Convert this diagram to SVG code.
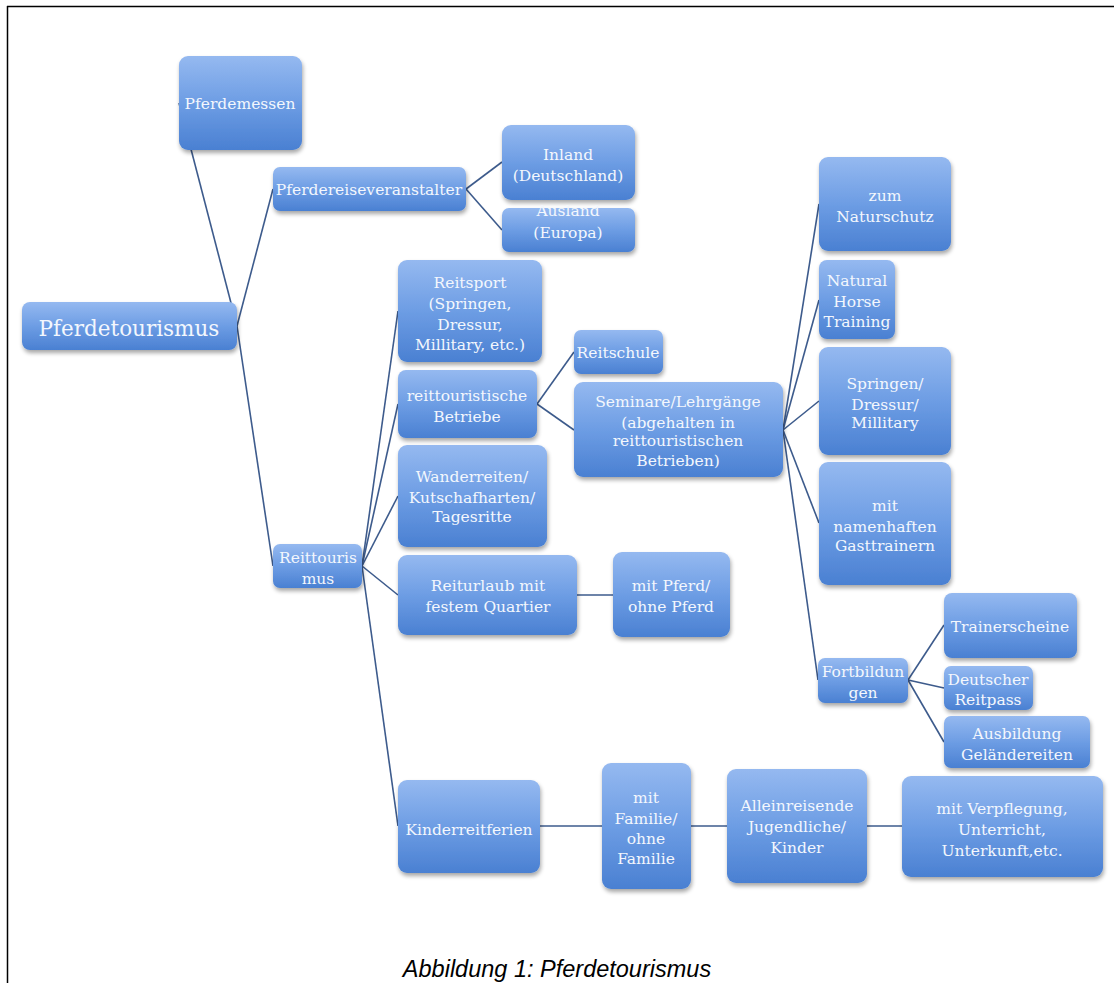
<svg xmlns="http://www.w3.org/2000/svg" width="1114" height="983" viewBox="0 0 1114 983">
<defs>
<linearGradient id="g" x1="0" y1="0" x2="0" y2="1">
<stop offset="0" stop-color="#95b9f0"/>
<stop offset="0.5" stop-color="#6d9de4"/>
<stop offset="1" stop-color="#4a80d2"/>
</linearGradient>
<filter id="sh" x="-10%" y="-10%" width="125%" height="135%">
<feGaussianBlur in="SourceAlpha" stdDeviation="2"/>
<feOffset dx="1" dy="3" result="b"/>
<feComponentTransfer><feFuncA type="linear" slope="0.35"/></feComponentTransfer>
<feMerge><feMergeNode/><feMergeNode in="SourceGraphic"/></feMerge>
</filter>
</defs>
<style>
.n rect{fill:url(#g);filter:url(#sh)}
.n text{font-family:"DejaVu Serif","Liberation Serif",serif;font-size:15.5px;fill:#f3f7fd;text-anchor:middle}
.c line{stroke:#3d5b8c;stroke-width:1.6}
.cap{font-family:"Liberation Sans",Arial,sans-serif;font-style:italic;font-size:23.5px;fill:#000;text-anchor:middle}
</style>
<rect x="0" y="0" width="1114" height="983" fill="#fff"/>
<line x1="7.5" y1="6" x2="7.5" y2="983" stroke="#000" stroke-width="1.5"/>
<line x1="7" y1="6.5" x2="1114" y2="6.5" stroke="#000" stroke-width="1.5"/>

<g id="connectors" class="c">
<line x1="237" y1="326" x2="179" y2="103"/>
<line x1="237" y1="326" x2="273" y2="189"/>
<line x1="237" y1="326" x2="273" y2="566"/>
<line x1="466" y1="189" x2="502" y2="162"/>
<line x1="466" y1="189" x2="502" y2="230"/>
<line x1="362" y1="566" x2="398" y2="311"/>
<line x1="362" y1="566" x2="398" y2="404"/>
<line x1="362" y1="566" x2="398" y2="496"/>
<line x1="362" y1="566" x2="398" y2="595"/>
<line x1="362" y1="566" x2="398" y2="826"/>
<line x1="537" y1="404" x2="574" y2="352"/>
<line x1="537" y1="404" x2="574" y2="430"/>
<line x1="783" y1="430" x2="819" y2="204"/>
<line x1="783" y1="430" x2="819" y2="300"/>
<line x1="783" y1="430" x2="819" y2="401"/>
<line x1="783" y1="430" x2="819" y2="523"/>
<line x1="783" y1="430" x2="818" y2="680"/>
<line x1="908" y1="680" x2="944" y2="625"/>
<line x1="908" y1="680" x2="944" y2="688"/>
<line x1="908" y1="680" x2="944" y2="742"/>
<line x1="577" y1="595" x2="613" y2="595"/>
<line x1="540" y1="826" x2="602" y2="826"/>
<line x1="691" y1="826" x2="727" y2="826"/>
<line x1="867" y1="826" x2="902" y2="826"/>
</g>

<g id="n-pferdemessen" class="n"><rect x="179" y="56" width="123" height="94" rx="9"/><text x="240" y="109">Pferdemessen</text></g>
<g id="n-pferdetourismus" class="n"><rect x="22" y="302" width="215" height="48" rx="8"/><text x="129" y="336" style="font-size:21.5px">Pferdetourismus</text></g>
<g id="n-veranstalter" class="n"><rect x="273" y="167" width="193" height="44" rx="7"/><text x="369" y="195">Pferdereiseveranstalter</text></g>
<g id="n-inland" class="n"><rect x="502" y="125" width="133" height="75" rx="9"/><text x="568" y="160">Inland</text><text x="568" y="181">(Deutschland)</text></g>
<g id="n-ausland" class="n"><rect x="502" y="208" width="133" height="44" rx="7"/><text x="568" y="216">Ausland</text><text x="568" y="238">(Europa)</text></g>
<g id="n-reitsport" class="n"><rect x="398" y="260" width="144" height="102" rx="9"/><text x="470" y="288">Reitsport</text><text x="470" y="309">(Springen,</text><text x="470" y="330">Dressur,</text><text x="470" y="350">Millitary, etc.)</text></g>
<g id="n-betriebe" class="n"><rect x="398" y="370" width="139" height="68" rx="8"/><text x="467" y="401">reittouristische</text><text x="467" y="422">Betriebe</text></g>
<g id="n-reitschule" class="n"><rect x="574" y="330" width="89" height="44" rx="7"/><text x="618" y="358">Reitschule</text></g>
<g id="n-seminare" class="n"><rect x="574" y="382" width="209" height="95" rx="9"/><text x="678" y="407">Seminare/Lehrgänge</text><text x="678" y="428">(abgehalten in</text><text x="678" y="446">reittouristischen</text><text x="678" y="466">Betrieben)</text></g>
<g id="n-wanderreiten" class="n"><rect x="398" y="445" width="149" height="102" rx="9"/><text x="472" y="482">Wanderreiten/</text><text x="472" y="503">Kutschafharten/</text><text x="472" y="522">Tagesritte</text></g>
<g id="n-reittourismus" class="n"><rect x="273" y="544" width="89" height="44" rx="7"/><text x="318" y="563">Reittouris</text><text x="318" y="584">mus</text></g>
<g id="n-reiturlaub" class="n"><rect x="398" y="555" width="179" height="80" rx="9"/><text x="488" y="591">Reiturlaub mit</text><text x="488" y="612">festem Quartier</text></g>
<g id="n-mitpferd" class="n"><rect x="613" y="552" width="117" height="85" rx="9"/><text x="671" y="591">mit Pferd/</text><text x="671" y="612">ohne Pferd</text></g>
<g id="n-naturschutz" class="n"><rect x="819" y="157" width="132" height="94" rx="9"/><text x="885" y="201">zum</text><text x="885" y="222">Naturschutz</text></g>
<g id="n-natural" class="n"><rect x="819" y="260" width="76" height="79" rx="8"/><text x="857" y="286">Natural</text><text x="857" y="307">Horse</text><text x="857" y="327">Training</text></g>
<g id="n-springen" class="n"><rect x="819" y="347" width="132" height="108" rx="9"/><text x="885" y="389">Springen/</text><text x="885" y="410">Dressur/</text><text x="885" y="428">Millitary</text></g>
<g id="n-gasttrainer" class="n"><rect x="819" y="462" width="132" height="123" rx="9"/><text x="885" y="511">mit</text><text x="885" y="532">namenhaften</text><text x="885" y="551">Gasttrainern</text></g>
<g id="n-fortbildungen" class="n"><rect x="818" y="658" width="90" height="45" rx="7"/><text x="863" y="677">Fortbildun</text><text x="863" y="698">gen</text></g>
<g id="n-trainerscheine" class="n"><rect x="944" y="593" width="133" height="65" rx="8"/><text x="1010" y="632">Trainerscheine</text></g>
<g id="n-reitpass" class="n"><rect x="944" y="666" width="89" height="44" rx="7"/><text x="988" y="685">Deutscher</text><text x="988" y="705">Reitpass</text></g>
<g id="n-gelaende" class="n"><rect x="944" y="716" width="146" height="52" rx="7"/><text x="1017" y="739">Ausbildung</text><text x="1017" y="760">Geländereiten</text></g>
<g id="n-kinderreitferien" class="n"><rect x="398" y="780" width="142" height="93" rx="9"/><text x="469" y="835">Kinderreitferien</text></g>
<g id="n-familie" class="n"><rect x="602" y="763" width="89" height="126" rx="9"/><text x="646" y="803">mit</text><text x="646" y="824">Familie/</text><text x="646" y="844">ohne</text><text x="646" y="864">Familie</text></g>
<g id="n-alleinreisende" class="n"><rect x="727" y="769" width="140" height="114" rx="9"/><text x="797" y="811">Alleinreisende</text><text x="797" y="832">Jugendliche/</text><text x="797" y="853">Kinder</text></g>
<g id="n-verpflegung" class="n"><rect x="902" y="776" width="201" height="101" rx="9"/><text x="1002" y="814">mit Verpflegung,</text><text x="1002" y="835">Unterricht,</text><text x="1002" y="856">Unterkunft,etc.</text></g>

<text class="cap" x="557" y="977">Abbildung 1: Pferdetourismus</text>
</svg>
